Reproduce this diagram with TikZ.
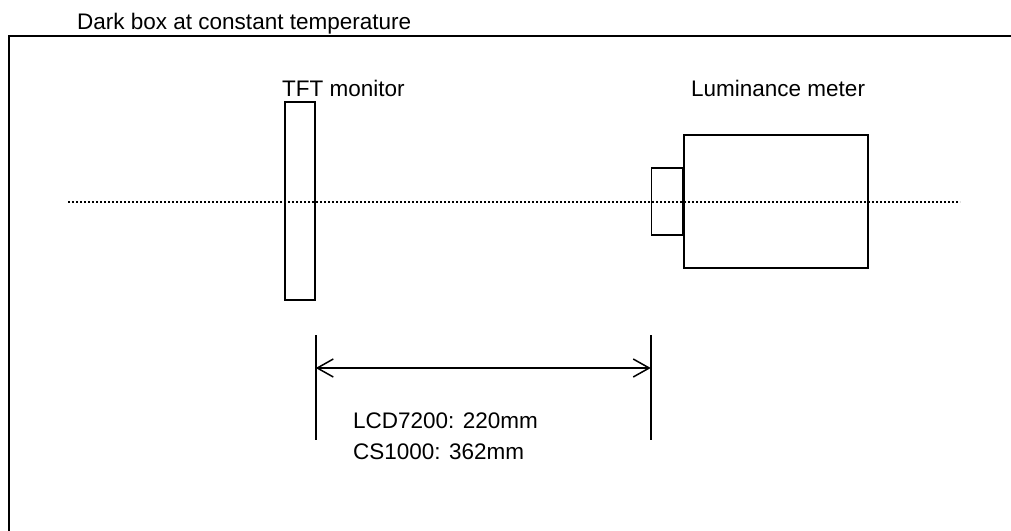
\documentclass[tikz,border=0pt]{standalone}
\usepackage{fontspec}
\setmainfont{Liberation Sans}
\usetikzlibrary{arrows.meta}
\begin{document}
\begin{tikzpicture}[x=1pt,y=-1pt,
  lbl/.style={inner sep=0pt,font=\fontsize{22.5}{26}\selectfont},
  part/.style={draw,line width=1.5pt,inner sep=0pt},
  dimline/.style={line width=1.8pt},
  axis/.style={line width=2pt,dash pattern=on 2pt off 2pt}]
\useasboundingbox (0,0) rectangle (1011,530);
% dark box
\coordinate (boxbl) at (9,531);
\coordinate (boxtl) at (9,36);
\coordinate (boxtr) at (1012,36);
\draw[line width=2.2pt] (boxbl) -- (boxtl) -- (boxtr);
\node[lbl,anchor=base west] (title) at (77,29) {Dark box at constant temperature};
% TFT monitor
\node[part,minimum width=30pt,minimum height=198pt] (tft) at (300,201) {};
\node[lbl,anchor=base west] (tftl) at (282,96) {TFT monitor};
% luminance meter
\node[part,minimum width=184pt,minimum height=133pt] (meter) at (776,201.5) {};
\node[part,minimum width=31pt,minimum height=67pt,anchor=east] (lens) at (meter.west) {};
\node[lbl,anchor=base west] (meterl) at (691,96) {Luminance meter};
% optical axis
\coordinate (axl) at (68,202);
\coordinate (axr) at (960,202);
\draw[axis] (axl) -- (axr);
% dimension
\coordinate (d1t) at (tft.east |- 0,335);
\coordinate (d1b) at (tft.east |- 0,440);
\coordinate (d2t) at (lens.west |- 0,335);
\coordinate (d2b) at (lens.west |- 0,440);
\draw[dimline] (d1t) -- (d1b);
\draw[dimline] (d2t) -- (d2b);
\coordinate (a1) at (tft.east |- 0,368);
\coordinate (a2) at (lens.west |- 0,368);
\draw[line width=1.5pt,{Straight Barb[length=16pt,width=18pt]}-{Straight Barb[length=16pt,width=18pt]}] (a1) -- (a2);
\node[lbl,anchor=base west] (l1) at (353,428) {LCD7200: 220mm};
\node[lbl,anchor=base west] (l2) at (353,459) {CS1000: 362mm};
\end{tikzpicture}
\end{document}
